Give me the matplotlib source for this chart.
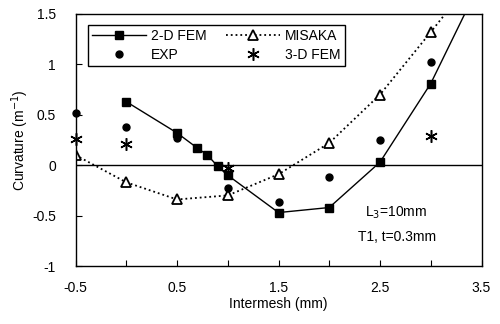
import matplotlib
matplotlib.use("Agg")
import matplotlib.pyplot as plt
from matplotlib.ticker import MultipleLocator

plt.rcParams['font.family'] = ['Liberation Sans', 'DejaVu Sans']

fem2d_x = [0.0, 0.5, 0.7, 0.8, 0.9, 1.0, 1.5, 2.0, 2.5, 3.0, 3.5]
fem2d_y = [0.63, 0.32, 0.17, 0.10, -0.01, -0.10, -0.47, -0.42, 0.03, 0.81, 1.84]

misaka_x = [-0.5, 0.0, 0.5, 1.0, 1.5, 2.0, 2.5, 3.0, 3.5]
misaka_y = [0.10, -0.17, -0.34, -0.30, -0.09, 0.22, 0.70, 1.32, 1.95]

exp_x = [-0.5, 0.0, 0.5, 1.0, 1.5, 2.0, 2.5, 3.0]
exp_y = [0.52, 0.38, 0.27, -0.23, -0.37, -0.12, 0.25, 1.02]

fem3d_x = [-0.5, 0.0, 1.0, 3.0]
fem3d_y = [0.26, 0.21, -0.03, 0.29]

fig = plt.figure(figsize=(5.0, 3.24), dpi=100)
ax = fig.add_axes([0.151, 0.179, 0.812, 0.778])

ax.axhline(0, color='black', lw=1.0, zorder=1)

l1, = ax.plot(fem2d_x, fem2d_y, '-', color='black', lw=1.0, marker='s',
              ms=5.5, mfc='black', mec='black', label='2-D FEM', clip_on=True)
l2, = ax.plot(misaka_x, misaka_y, ':', color='black', lw=1.3, marker='^',
              ms=7, mfc='white', mec='black', mew=1.3, label='MISAKA', clip_on=True)
l3, = ax.plot(exp_x, exp_y, 'o', color='black', ms=5, label='EXP', clip_on=False)
l4, = ax.plot(fem3d_x, fem3d_y, linestyle='none', marker=(6, 2, 0), color='black',
              ms=9, mew=1.1, label='3-D FEM', clip_on=False)

ax.set_xlim(-0.5, 3.5)
ax.set_ylim(-1, 1.5)
ax.set_xticks([-0.5, 0.5, 1.5, 2.5, 3.5])
ax.set_xticklabels(['-0.5', '0.5', '1.5', '2.5', '3.5'])
ax.xaxis.set_minor_locator(MultipleLocator(0.5))
ax.set_yticks([-1, -0.5, 0, 0.5, 1, 1.5])
ax.set_yticklabels(['-1', '-0.5', '0', '0.5', '1', '1.5'])
ax.tick_params(direction='in', length=4, labelsize=10, width=0.8)
ax.tick_params(axis='x', pad=11)
ax.tick_params(axis='y', pad=14)
ax.tick_params(axis='x', which='minor', direction='in', length=4, width=0.8)
for s in ax.spines.values():
    s.set_linewidth(1.0)

ax.set_xlabel('Intermesh (mm)', fontsize=10, labelpad=1)
ax.set_ylabel('Curvature (m$^{-1}$)', fontsize=10, labelpad=1)

leg = ax.legend(handles=[l1, l3, l2, l4], ncol=2, loc='upper left',
                bbox_to_anchor=(0.03, 0.958), fontsize=10, frameon=True,
                fancybox=False, edgecolor='black', framealpha=1,
                handlelength=3.9, columnspacing=1.4, borderpad=0.3,
                labelspacing=0.35, handletextpad=0.35, borderaxespad=0)
leg.get_frame().set_linewidth(1.0)

ax.text(2.35, -0.47, 'L$_3$=10mm', fontsize=10, va='center', ha='left')
ax.text(2.28, -0.71, 'T1, t=0.3mm', fontsize=10, va='center', ha='left')

fig.savefig('out.png', dpi=100)
